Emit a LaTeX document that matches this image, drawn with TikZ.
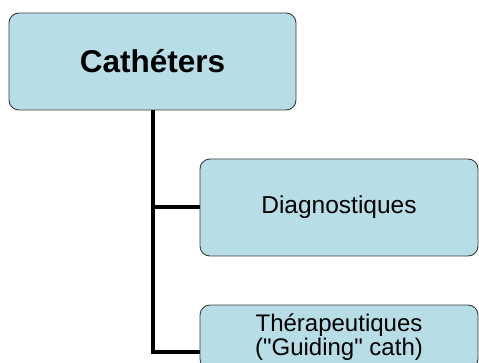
\documentclass[tikz,border=0pt]{standalone}
\usepackage{fontspec}
\setmainfont{Liberation Sans}[Ligatures=TeXOff]
\usetikzlibrary{positioning}
\definecolor{boxblue}{RGB}{183,222,230}
\definecolor{boxline}{RGB}{60,60,60}

\begin{document}
\begin{tikzpicture}[x=1pt,y=-1pt,
      box/.style={draw=boxline,fill=boxblue,rounded corners=10pt,line width=0.9pt,
                  align=center,inner sep=0pt},
      branch/.style={line width=4pt,black}]
    \useasboundingbox (0,0) rectangle (479,363);
    \clip (0,0) rectangle (479,363);

    % ---- root: Catheters ---------------------------------------------
    \node[box,minimum width=287pt,minimum height=97pt,
          font=\fontsize{31.5}{36}\selectfont\bfseries] (cath) at (152.5,61.5)
          {Cathéters};

    % ---- children -----------------------------------------------------
    \node[box,minimum width=278pt,minimum height=97pt,
          font=\fontsize{24.5}{28}\selectfont] (diag) at (339,207.5)
          {Diagnostiques};
    \node[box,minimum width=278pt,minimum height=64pt,
          font=\fontsize{24}{24}\selectfont] (thera) at (339,337)
          {Thérapeutiques\\("Guiding" cath)};

    % ---- tree connectors ------------------------------------------------
    \draw[branch] (cath.south) |- (diag.west);
    \draw[branch] (cath.south) |- ([yshift=-15pt]thera.west);
  \end{tikzpicture}
\end{document}
